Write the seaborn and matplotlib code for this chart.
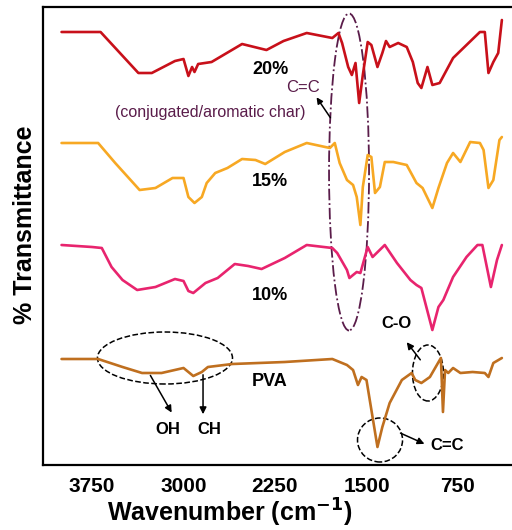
import matplotlib
matplotlib.use("Agg")
import matplotlib.pyplot as plt
import seaborn as sns
import pandas as pd
from matplotlib.patches import Ellipse

# (wavenumber in cm-1, stacked transmittance in arbitrary units)
wn_20 = [4000, 3680, 3370, 3260, 3070, 3000, 2960, 2930, 2910, 2880, 2770, 2520, 2320, 2180,
         1990, 1780, 1730, 1700, 1650, 1620, 1590, 1560, 1530, 1490, 1460, 1410, 1370, 1340,
         1310, 1240, 1170, 1120, 1080, 1050, 1000, 960, 900, 790, 680, 570, 530, 500, 460, 420, 390]
t_20 = [433, 433, 392, 392, 404, 406, 389, 398, 393, 401, 403, 421, 415, 424,
        432, 427, 432, 422, 398, 390, 402, 362, 390, 423, 420, 398, 412, 424,
        418, 422, 418, 403, 382, 377, 398, 380, 382, 407, 420, 433, 433, 392, 403, 412, 445]

wn_15 = [4000, 3700, 3560, 3360, 3230, 3090, 3000, 2960, 2910, 2850, 2810, 2740, 2640, 2520,
         2410, 2330, 2170, 1990, 1800, 1760, 1720, 1660, 1610, 1580, 1550, 1530, 1490, 1460,
         1430, 1390, 1350, 1280, 1170, 1090, 1040, 960, 910, 840, 790, 730, 650, 570, 540, 500,
         460, 410, 390]
t_15 = [322, 322, 302, 275, 277, 287, 287, 268, 262, 268, 282, 292, 297, 306,
        305, 301, 313, 322, 317, 322, 302, 285, 280, 268, 240, 278, 310, 308,
        272, 278, 303, 303, 300, 282, 277, 257, 277, 302, 312, 303, 323, 322, 315, 277,
        285, 325, 328]

wn_10 = [4000, 3750, 3670, 3590, 3500, 3380, 3230, 3070, 3000, 2960, 2920, 2820, 2720, 2580,
         2470, 2360, 2170, 1990, 1780, 1740, 1660, 1640, 1580, 1550, 1490, 1450, 1350, 1250,
         1140, 1090, 1050, 960, 910, 870, 790, 680, 590, 550, 480, 430, 390]
t_10 = [220, 218, 217, 198, 185, 175, 178, 186, 184, 174, 172, 182, 187, 201,
        199, 196, 207, 220, 217, 212, 195, 187, 193, 192, 218, 208, 220, 202,
        185, 180, 177, 135, 158, 165, 188, 208, 220, 220, 178, 205, 220]

wn_pva = [4000, 3700, 3500, 3340, 3180, 3000, 2920, 2850, 2800, 2600, 2170, 1780, 1660, 1610,
          1570, 1540, 1500, 1410, 1370, 1310, 1210, 1130, 1100, 1050, 980, 890, 873, 856, 830,
          790, 730, 630, 530, 500, 460, 390]
t_pva = [106, 106, 98, 92, 92, 97, 89, 93, 98, 101, 103, 106, 100, 95,
         80, 88, 85, 18, 38, 62, 85, 92, 85, 82, 88, 107, 53, 95, 92,
         97, 92, 93, 92, 88, 102, 107]

series = ["PVA", "10%", "15%", "20%"]
colors = ["#BF6F1F", "#E8246E", "#F7A823", "#C8101A"]
label_y = [84, 169, 283, 395]
xticks = [3750, 3000, 2250, 1500, 750]

df = pd.concat([
    pd.DataFrame({"wn": wn_pva, "t": t_pva, "s": "PVA"}),
    pd.DataFrame({"wn": wn_10, "t": t_10, "s": "10%"}),
    pd.DataFrame({"wn": wn_15, "t": t_15, "s": "15%"}),
    pd.DataFrame({"wn": wn_20, "t": t_20, "s": "20%"}),
])

sns.set_style("white")
plt.rcParams["font.family"] = ["Liberation Sans", "DejaVu Sans"]
plt.rcParams["text.color"] = "black"
plt.rcParams["axes.labelcolor"] = "black"
plt.rcParams["xtick.color"] = "black"

fig = plt.figure(figsize=(5.12, 5.30), dpi=100)
ax = fig.add_axes([43 / 512, 65 / 530, 469 / 512, 458 / 530])

for name, c in zip(series, colors):
    sns.lineplot(data=df[df["s"] == name], x="wn", y="t", color=c, lw=1.9,
                 estimator=None, ax=ax)

ax.set_xlim(4152, 307)
ax.set_ylim(0, 458)
ax.set_yticks([])
ax.set_xticks(xticks)
ax.set_xticklabels([str(v) for v in xticks], fontsize=15, fontweight="bold")
ax.tick_params(axis="x", length=0, pad=9)
for side in ["left", "top", "bottom"]:
    ax.spines[side].set_linewidth(1.6)
    ax.spines[side].set_color("black")
ax.spines["right"].set_visible(False)

ax.set_xlabel(r"Wavenumber (cm$^{\mathbf{-1}}$)", fontsize=18, fontweight="bold", va="center")
ax.xaxis.set_label_coords(0.399, -0.104)
ax.set_ylabel("% Transmittance", fontsize=18, fontweight="bold", va="center")
ax.yaxis.set_label_coords(-0.038, 0.524)

# sample labels
for name, y in zip(series, label_y):
    ax.text(2290, y, name, fontsize=13, fontweight="bold", ha="center", va="center")

purple = "#5A1C4A"
ax.add_patch(Ellipse((1643, 293), 328, 317, fill=False, ls="-.", lw=1.3, ec=purple))
ax.text(2020, 377, "C=C", fontsize=12, color=purple, ha="center", va="center")
ax.text(2783, 352, "(conjugated/aromatic char)", fontsize=11.5, color=purple,
        ha="center", va="center")
ax.annotate("", xy=(1922, 370), xytext=(1783, 345),
            arrowprops=dict(arrowstyle="-|>", color="black", lw=1.1, mutation_scale=9))

# OH / CH
ax.add_patch(Ellipse((3152, 107), 1107, 52, fill=False, ls="--", lw=1.1, ec="black"))
ax.annotate("", xy=(3086, 50), xytext=(3283, 92),
            arrowprops=dict(arrowstyle="-|>", color="black", lw=1.1, mutation_scale=10))
ax.annotate("", xy=(2840, 48), xytext=(2840, 93),
            arrowprops=dict(arrowstyle="-|>", color="black", lw=1.1, mutation_scale=10))
ax.text(3127, 35, "OH", fontsize=12, fontweight="bold", ha="center", va="center")
ax.text(2791, 35, "CH", fontsize=12, fontweight="bold", ha="center", va="center")

# C=C on PVA
ax.add_patch(Ellipse((1389, 25), 369, 44, fill=False, ls="--", lw=1.1, ec="black"))
ax.annotate("", xy=(1004, 20), xytext=(1242, 33),
            arrowprops=dict(arrowstyle="-|>", color="black", lw=1.1, mutation_scale=10))
ax.text(840, 19, "C=C", fontsize=12, fontweight="bold", ha="center", va="center")

# C-O
ax.add_patch(Ellipse((996, 92), 254, 56, fill=False, ls="--", lw=1.1, ec="black"))
ax.annotate("", xy=(1184, 125), xytext=(1045, 103),
            arrowprops=dict(arrowstyle="-|>", color="black", lw=1.1, mutation_scale=10))
ax.text(1250, 141, "C-O", fontsize=12, fontweight="bold", ha="center", va="center")

fig.savefig("out.png", dpi=100)
